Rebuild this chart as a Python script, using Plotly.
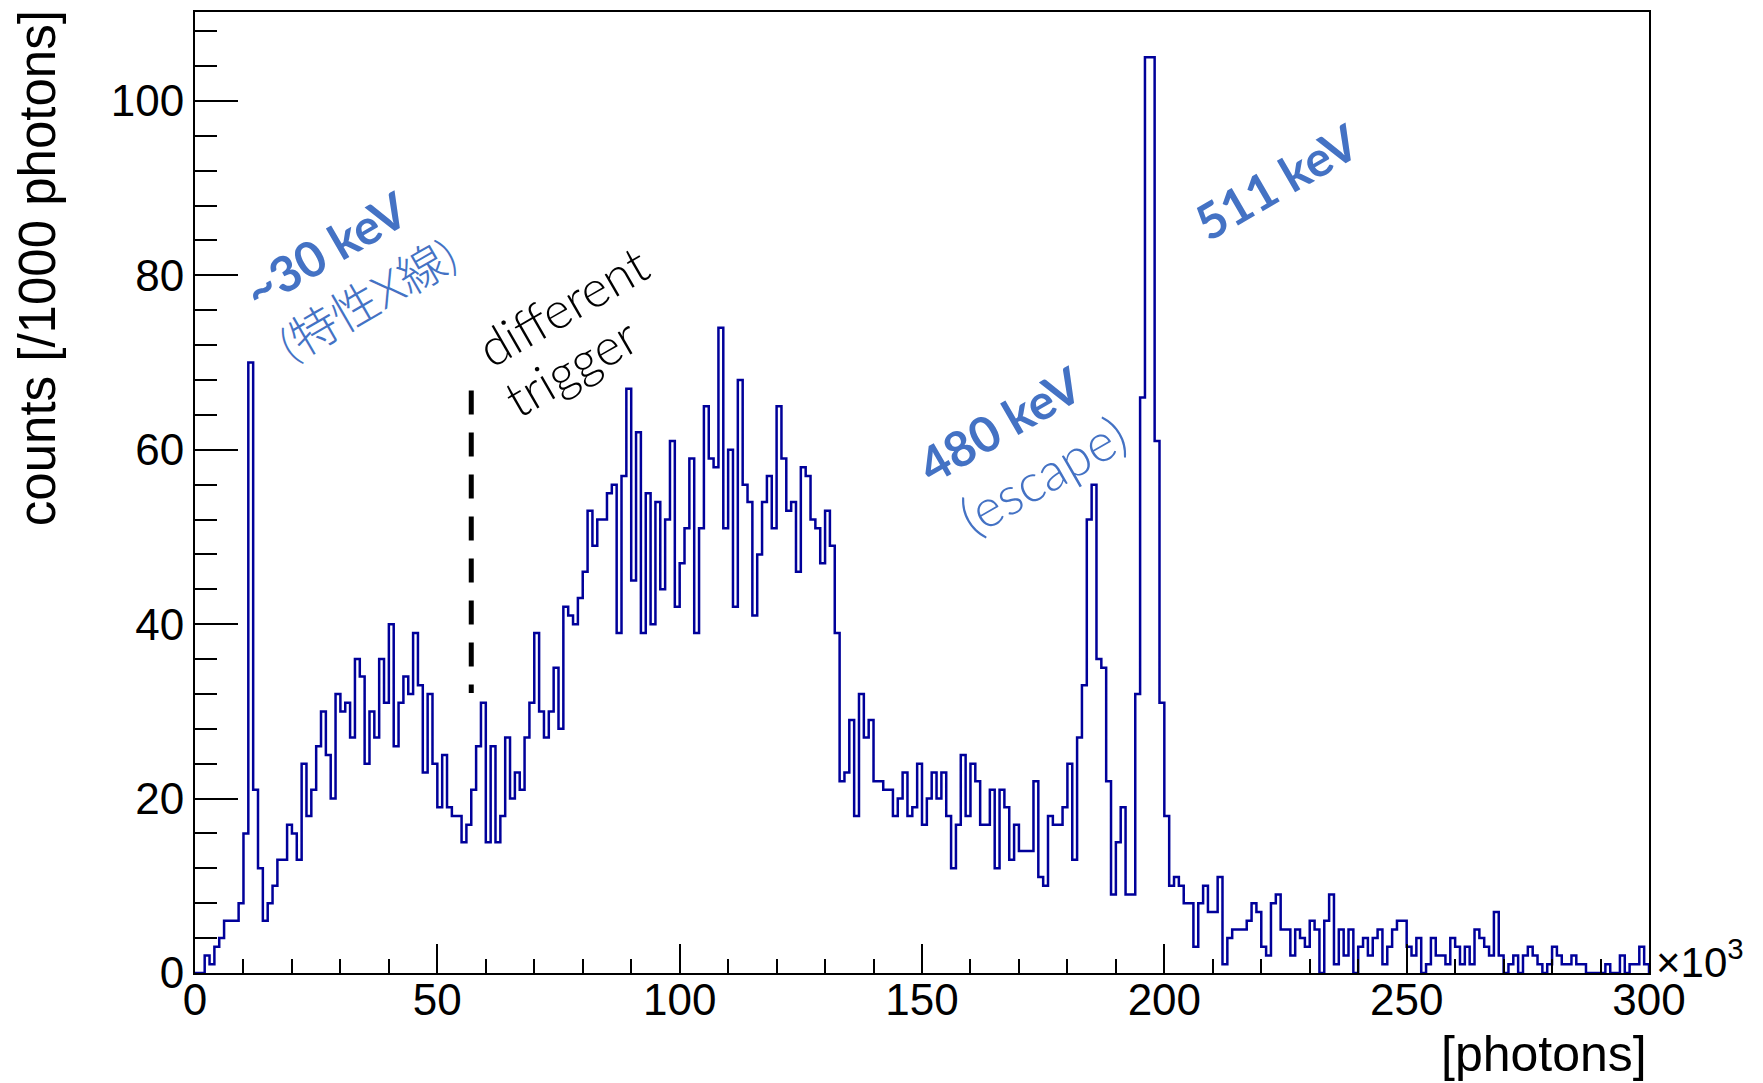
import numpy as np
import plotly.graph_objects as go

# Histogram of detected photons per event, 1000-photon bins from 0 to 300 (x10^3)
bin_width = 1.0
counts = [
    0, 0, 2, 1, 3, 4, 6, 6, 6, 8,            # 0-9
    16, 70, 21, 12, 6, 8, 10, 13, 13, 17,     # 10-19
    16, 13, 24, 18, 21, 26, 30, 25, 20, 32,   # 20-29
    30, 31, 27, 36, 34, 24, 30, 27, 36, 31,   # 30-39
    40, 26, 31, 34, 32, 39, 33, 23, 32, 24,   # 40-49
    19, 25, 19, 18, 18, 15, 17, 21, 26, 31,   # 50-59
    15, 26, 15, 18, 27, 20, 23, 21, 27, 31,   # 60-69
    39, 30, 27, 30, 35, 28, 42, 41, 40, 43,   # 70-79
    46, 53, 49, 52, 52, 55, 56, 39, 57, 67,   # 80-89
    45, 62, 39, 55, 40, 54, 44, 52, 61, 42,   # 90-99
    47, 51, 59, 39, 51, 65, 59, 58, 74, 51,   # 100-109
    60, 42, 68, 56, 54, 41, 48, 54, 57, 51,   # 110-119
    65, 59, 53, 54, 46, 58, 57, 52, 51, 47,   # 120-129
    53, 49, 39, 22, 23, 29, 18, 32, 27, 29,   # 130-139
    22, 22, 21, 21, 18, 20, 23, 18, 19, 24,   # 140-149
    17, 20, 23, 20, 23, 18, 12, 17, 25, 18,   # 150-159
    24, 22, 17, 17, 21, 12, 21, 19, 13, 17,   # 160-169
    14, 14, 14, 22, 11, 10, 18, 17, 17, 19,   # 170-179
    24, 13, 27, 33, 52, 56, 36, 35, 22, 9,    # 180-189
    15, 19, 9, 9, 32, 66, 105, 105, 61, 31,   # 190-199
    18, 10, 11, 10, 8, 8, 3, 8, 10, 7,        # 200-209
    7, 11, 1, 4, 5, 5, 5, 6, 8, 7,            # 210-219
    3, 2, 8, 9, 5, 5, 2, 5, 4, 3,             # 220-229
    6, 5, 0, 6, 9, 1, 5, 2, 5, 0,             # 230-239
    3, 4, 2, 4, 5, 1, 3, 5, 6, 6,             # 240-249
    3, 2, 4, 0, 1, 4, 2, 2, 1, 4,             # 250-259
    3, 1, 3, 1, 5, 4, 3, 2, 7, 2,             # 260-269
    0, 1, 2, 0, 2, 3, 2, 1, 0, 1,             # 270-279
    3, 2, 1, 1, 2, 1, 1, 0, 0, 0,             # 280-289
    0, 1, 0, 0, 2, 0, 1, 1, 3, 1,             # 290-299
]

x_tickvals = [0, 50, 100, 150, 200, 250, 300]
x_ticktext = ["0", "50", "100", "150", "200", "250", "300"]
y_tickvals = [0, 20, 40, 60, 80, 100]
y_ticktext = ["0", "20", "40", "60", "80", "100"]

x_range = [0, 300]
y_range = [0, 110.2]

# position of the trigger-change marker (x10^3 photons) and its vertical extent
trigger_x = 57.0
trigger_y = [66.8, 32.1]

W, H = 1763, 1083
ML, MR, MT, MB = 195, 114, 10, 110

HIST_COLOR = "#00009a"
NOTE_BLUE = "#4472c4"
AXIS_FONT = "Liberation Sans, Arial, Helvetica, sans-serif"
NOTE_FONT = "Lato, Noto Sans CJK JP, sans-serif"

# step outline of the histogram, closed down to the baseline at both ends
counts_arr = np.asarray(counts, dtype=float)
edges = np.arange(len(counts_arr) + 1) * bin_width
step_x = np.concatenate([[edges[0]], edges, [edges[-1]]])
step_y = np.concatenate([[0.0], counts_arr, [counts_arr[-1]], [0.0]])

fig = go.Figure()

fig.add_trace(go.Scatter(
    x=step_x, y=step_y,
    mode="lines",
    line=dict(color=HIST_COLOR, width=2.5, shape="hv"),
    hoverinfo="skip",
    showlegend=False,
))

# dashed marker where the trigger condition changes
fig.add_trace(go.Scatter(
    x=[trigger_x, trigger_x], y=trigger_y,
    mode="lines",
    line=dict(color="black", width=5, dash="24px,18px"),
    hoverinfo="skip",
    showlegend=False,
))

axis_common = dict(
    showline=True, linecolor="black", linewidth=2, mirror=True,
    showgrid=False, zeroline=False,
    ticks="inside", tickcolor="black", tickwidth=2,
    tickfont=dict(family=AXIS_FONT, size=44, color="black"),
)

fig.update_xaxes(
    range=x_range,
    tickmode="array", tickvals=x_tickvals, ticktext=x_ticktext,
    ticklen=29, ticklabelstandoff=-13,
    minor=dict(ticks="inside", dtick=10, tick0=0, ticklen=14,
               tickwidth=2, tickcolor="black", showgrid=False),
    **axis_common,
)
fig.update_yaxes(
    range=y_range,
    tickmode="array", tickvals=y_tickvals, ticktext=y_ticktext,
    ticklen=43,
    minor=dict(ticks="inside", dtick=4, tick0=0, ticklen=22,
               tickwidth=2, tickcolor="black", showgrid=False),
    **axis_common,
)

plot_w = W - ML - MR
plot_h = H - MT - MB

def px_to_paper_x(px):
    return (px - ML) / plot_w

def px_to_paper_y(py):
    return (H - MB - py) / plot_h

annotations = [
    # axis titles
    dict(text="counts [/1000 photons]", xref="paper", yref="paper",
         x=px_to_paper_x(37), y=1.004, xanchor="center", yanchor="top",
         textangle=-90, showarrow=False,
         font=dict(family=AXIS_FONT, size=51, color="black")),
    dict(text="[photons]", xref="paper", yref="paper",
         x=1.0, y=px_to_paper_y(1054), xanchor="right", yanchor="middle",
         showarrow=False,
         font=dict(family=AXIS_FONT, size=50, color="black")),
    dict(text="\u00d710<sup>3</sup>", xref="paper", yref="paper",
         x=1.0, y=0.0, xanchor="left", yanchor="bottom",
         xshift=5, yshift=-15, showarrow=False,
         font=dict(family=AXIS_FONT, size=42, color="black")),
    # peak labels
    dict(text="<b>~30 keV</b>", xref="x", yref="y", x=26.9, y=83.0,
         textangle=-30, showarrow=False,
         font=dict(family=NOTE_FONT, size=49, color=NOTE_BLUE)),
    dict(text="(特性X線)", xref="x", yref="y", x=35.6, y=77.3,
         textangle=-30, showarrow=False,
         font=dict(family=NOTE_FONT, size=47, color=NOTE_BLUE, weight=300)),
    dict(text="different", xref="x", yref="y", x=75.8, y=76.6,
         textangle=-30, showarrow=False,
         font=dict(family=NOTE_FONT, size=51, color="black", weight=300)),
    dict(text="trigger", xref="x", yref="y", x=77.5, y=69.6,
         textangle=-30, showarrow=False,
         font=dict(family=NOTE_FONT, size=51, color="black", weight=300)),
    dict(text="<b>480 keV</b>", xref="x", yref="y", x=166.0, y=63.0,
         textangle=-30, showarrow=False,
         font=dict(family=NOTE_FONT, size=49, color=NOTE_BLUE)),
    dict(text="(escape)", xref="x", yref="y", x=174.7, y=57.2,
         textangle=-30, showarrow=False,
         font=dict(family=NOTE_FONT, size=53, color=NOTE_BLUE, weight=300)),
    dict(text="<b>511 keV</b>", xref="x", yref="y", x=223.2, y=90.8,
         textangle=-30, showarrow=False,
         font=dict(family=NOTE_FONT, size=49, color=NOTE_BLUE)),
]

fig.update_layout(
    width=W, height=H,
    margin=dict(l=ML, r=MR, t=MT, b=MB, pad=0),
    paper_bgcolor="white", plot_bgcolor="white",
    showlegend=False,
    annotations=annotations,
)

fig.write_html("out.html")
